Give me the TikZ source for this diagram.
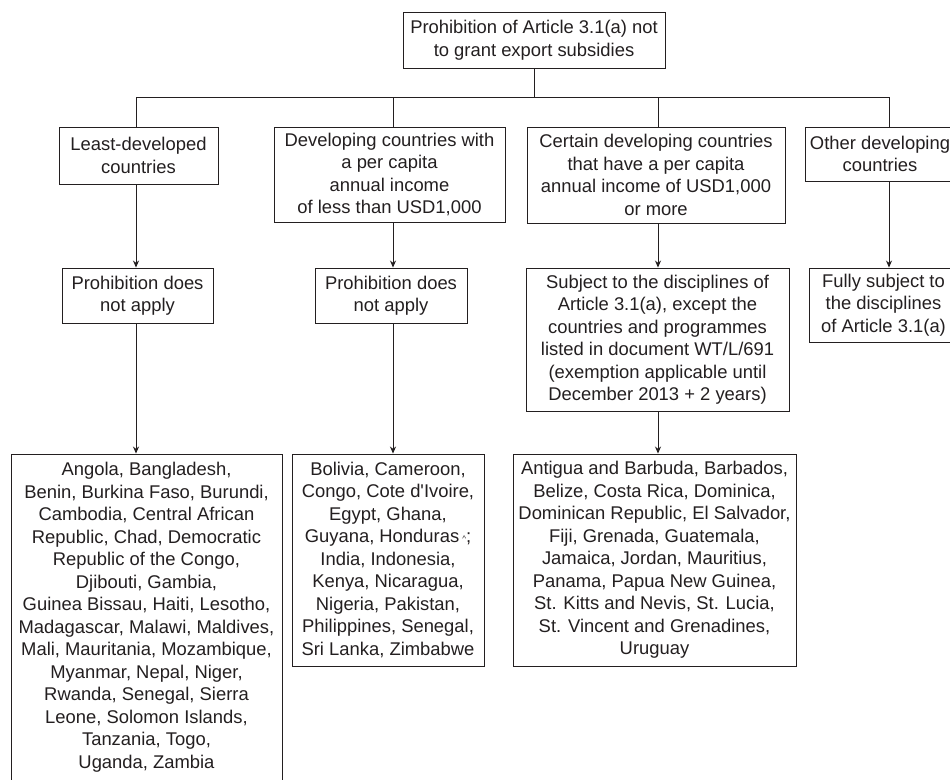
\documentclass[tikz,border=0pt]{standalone}
\usepackage{fontspec}
\setmainfont{Liberation Sans}
\usetikzlibrary{arrows.meta}
\definecolor{ink}{HTML}{231F20}
\tikzset{
  box/.style={draw=ink, line width=0.9pt, inner sep=0pt, align=center, text=ink,
    font=\fontsize{18.4}{22.5}\selectfont},
  conn/.style={draw=ink, line width=0.9pt},
  arr/.style={conn, -{Stealth[length=7pt,width=6pt]}}
}
\begin{document}
\begin{tikzpicture}[x=1pt,y=-1pt]
\clip (0,0) rectangle (950,779);
\fill[white] (0,0) rectangle (950,779);

\node[box, minimum width=262, minimum height=56] (top) at (534,40)
  {Prohibition of Article 3.1(a) not\\to grant export subsidies};

\node[box, minimum width=159, minimum height=57] (ldc) at (138.5,155.5)
  {Least-developed\\countries};
\node[box, minimum width=231, minimum height=95] (dev) at (389.5,174.5)
  {Developing countries with\\a per capita\\annual income\\of less than USD1,000};
\node[box, minimum width=258, minimum height=96] (cert) at (656,175)
  {Certain developing countries\\that have a per capita\\annual income of USD1,000\\or more};
\node[box, minimum width=150, minimum height=54] (oth) at (880,154)
  {Other developing\\countries};

\node[box, minimum width=151, minimum height=55] (ldcP) at (137.5,295.5)
  {Prohibition does\\not apply};
\node[box, minimum width=152, minimum height=55] (devP) at (391,295.5)
  {Prohibition does\\not apply};
\node[box, minimum width=263, minimum height=143] (subj) at (657.5,339.5)
  {Subject to the disciplines of\\Article 3.1(a), except the\\countries and programmes\\listed in document WT/L/691\\(exemption applicable until\\December 2013 + 2 years)};
\node[box, minimum width=149, minimum height=74] (full) at (883.5,305)
  {Fully subject to\\the disciplines\\of Article 3.1(a)};

\node[box, minimum width=271, minimum height=326] (ldcL) at (146.5,617)
  {Angola, Bangladesh,\\Benin, Burkina Faso, Burundi,\\Cambodia, Central African\\Republic, Chad, Democratic\\Republic of the Congo,\\Djibouti, Gambia,\\Guinea Bissau, Haiti, Lesotho,\\Madagascar, Malawi, Maldives,\\Mali, Mauritania, Mozambique,\\Myanmar, Nepal, Niger,\\Rwanda, Senegal, Sierra\\Leone, Solomon Islands,\\Tanzania, Togo,\\Uganda, Zambia};
\node[box, minimum width=192, minimum height=212] (devL) at (388,560)
  {Bolivia, Cameroon,\\Congo, Cote d\textquotesingle Ivoire,\\Egypt, Ghana,\\Guyana, Honduras\,{\fontsize{8}{8}\selectfont\raisebox{0.3ex}{\textasciicircum}};\\India, Indonesia,\\Kenya, Nicaragua,\\Nigeria, Pakistan,\\Philippines, Senegal,\\Sri Lanka, Zimbabwe};
\node[box, minimum width=283, minimum height=212] (certL) at (654.5,560)
  {Antigua and Barbuda, Barbados,\\Belize, Costa Rica, Dominica,\\Dominican Republic, El Salvador,\\Fiji, Grenada, Guatemala,\\Jamaica, Jordan, Mauritius,\\Panama, Papua New Guinea,\\St. Kitts and Nevis, St. Lucia,\\St. Vincent and Grenadines,\\Uruguay};

\coordinate (c1) at (136,97);
\coordinate (c2) at (393,97);
\coordinate (c3) at (658,97);
\coordinate (c4) at (889,97);

\draw[conn] (top.south) -- (top.south |- c1);
\draw[conn] (c1) -- (c4);
\draw[conn] (c1) -- (ldc.north -| c1);
\draw[conn] (c2) -- (dev.north -| c2);
\draw[conn] (c3) -- (cert.north -| c3);
\draw[conn] (c4) -- (oth.north -| c4);

\draw[arr] (ldc.south -| c1) -- (ldcP.north -| c1);
\draw[arr] (dev.south -| c2) -- (devP.north -| c2);
\draw[arr] (cert.south -| c3) -- (subj.north -| c3);
\draw[arr] (oth.south -| c4) -- (full.north -| c4);

\draw[arr] (ldcP.south -| c1) -- (ldcL.north -| c1);
\draw[arr] (devP.south -| c2) -- (devL.north -| c2);
\draw[arr] (subj.south -| c3) -- (certL.north -| c3);
\end{tikzpicture}
\end{document}
